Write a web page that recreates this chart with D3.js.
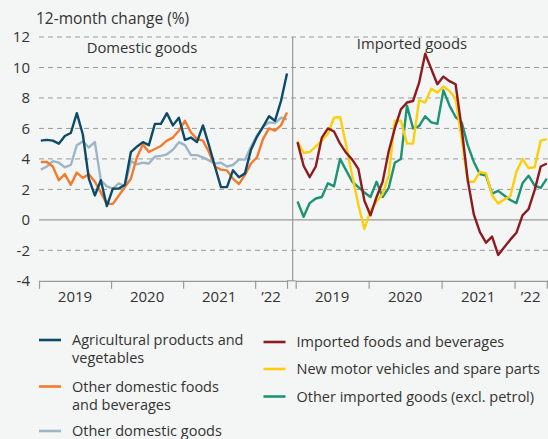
<!DOCTYPE html>
<html>
<head>
<meta charset="utf-8">
<script src="https://cdn.jsdelivr.net/npm/d3@7"></script>
<style>
  body { margin: 0; background: #f4f6f5; }
  svg { display: block; font-family: 'Open Sans', sans-serif; }
  .grid line { stroke: #9a9a9a; stroke-dasharray: 5,4; }
  .line { fill: none; stroke-width: 2.4; stroke-linejoin: round; }
  text { fill: #333; }
</style>
</head>
<body>
<svg id="chart"></svg>
<script>
// months Jan 2019 .. Jun 2022 (index 0..41)
const yearLabels = ['2019', '2020', '2021', '\u201922'];
const yTicks = [-4, -2, 0, 2, 4, 6, 8, 10, 12];

// Domestic goods
const agricultural = [5.2, 5.25, 5.2, 5.0, 5.5, 5.7, 7.0, 5.6, 2.7, 1.6, 2.6, 0.9, 2.05, 2.05, 2.3, 4.45, 4.8, 5.1, 4.9, 6.3, 6.3, 7.0, 6.2, 6.7, 5.25, 5.4, 5.1, 6.2, 4.9, 3.5, 2.15, 2.15, 3.25, 2.8, 3.05, 4.6, 5.45, 6.1, 6.8, 6.5, 7.8, 9.6];
const otherDomFoods = [3.8, 3.8, 3.5, 2.6, 3.0, 2.3, 3.1, 2.75, 3.0, 2.5, 1.8, 1.05, 1.05, 1.6, 2.15, 2.7, 4.1, 4.95, 4.45, 4.65, 4.85, 5.2, 5.4, 5.85, 6.5, 5.75, 5.3, 5.2, 4.45, 3.5, 3.3, 3.25, 2.7, 2.35, 2.95, 3.7, 4.1, 5.3, 6.0, 5.85, 6.2, 7.05];
const otherDomGoods = [3.3, 3.5, 3.85, 3.75, 3.45, 3.6, 4.9, 5.15, 4.75, 5.1, 2.6, 2.2, 2.05, 2.4, 2.2, 3.85, 3.65, 3.75, 3.7, 4.15, 4.2, 4.3, 4.6, 5.1, 4.9, 4.25, 4.25, 4.1, 3.9, 3.7, 3.75, 3.5, 3.6, 3.95, 3.95, 4.8, 5.55, 6.1, 6.4, 6.35, 6.7, 6.6];

// Imported goods
const importedFoods = [5.1, 3.55, 2.8, 3.5, 5.4, 6.0, 5.8, 5.0, 4.4, 3.95, 3.35, 1.25, 0.3, 1.5, 2.5, 4.5, 6.0, 7.25, 7.7, 7.8, 9.0, 10.9, 9.9, 8.9, 9.4, 9.1, 8.9, 6.0, 2.6, 0.35, -0.8, -1.5, -1.1, -2.3, -1.8, -1.3, -0.85, 0.3, 0.7, 1.95, 3.5, 3.7];
const motorVehicles = [5.15, 4.4, 4.45, 4.8, 5.2, 5.65, 6.7, 6.75, 4.9, 2.9, 1.0, -0.6, 0.6, 1.2, 1.7, 2.9, 6.5, 6.5, 5.0, 5.0, 7.85, 7.7, 8.6, 8.35, 8.75, 8.45, 7.95, 5.3, 2.5, 2.5, 3.15, 3.05, 1.6, 1.07, 1.33, 1.55, 3.15, 4.0, 3.4, 3.45, 5.2, 5.3];
const otherImported = [1.2, 0.2, 1.1, 1.4, 1.5, 2.4, 2.2, 4.0, 3.25, 2.5, 2.15, 1.8, 1.5, 2.5, 1.5, 2.1, 3.75, 4.0, 7.5, 6.0, 6.15, 6.8, 6.4, 6.3, 8.5, 7.5, 6.75, 6.4, 4.9, 3.8, 3.0, 2.9, 1.72, 1.9, 1.6, 1.3, 1.1, 2.4, 2.9, 2.25, 2.1, 2.7];

const width = 548;
const height = 439;

const svg = d3.select('#chart')
  .attr('width', width)
  .attr('height', height);

svg.append('rect')
  .attr('width', width)
  .attr('height', height)
  .attr('fill', '#f4f6f5');

const yScale = d3.scaleLinear()
  .domain([-4, 12])
  .range([280.8, 37]);

// month index scales, one per panel
const xLeft = d3.scaleLinear().domain([-0.3, 41]).range([39, 287]);
const xRight = d3.scaleLinear().domain([-0.3, 41]).range([295.7, 546.8]);
const boundaries = [-0.3, 11.7, 23.7, 35.7, 41];

// grid
svg.append('g')
  .attr('class', 'grid')
  .selectAll('line')
  .data(yTicks.filter(d => d !== 0 && d !== -4))
  .join('line')
  .attr('x1', 39)
  .attr('x2', width)
  .attr('y1', d => yScale(d))
  .attr('y2', d => yScale(d));

svg.append('line')
  .attr('x1', 39).attr('x2', width)
  .attr('y1', yScale(0)).attr('y2', yScale(0))
  .attr('stroke', '#999')
  .attr('stroke-width', 1.2);

// panel divider
svg.append('line')
  .attr('x1', 292.7).attr('x2', 292.7)
  .attr('y1', yScale(12)).attr('y2', yScale(-4))
  .attr('stroke', '#999')
  .attr('stroke-width', 1.2);

// y axis labels
const yAxis = d3.axisLeft(yScale)
  .tickValues(yTicks)
  .tickSize(0)
  .tickPadding(0)
  .tickFormat(d => String(d));

svg.append('g')
  .attr('transform', 'translate(30,0)')
  .call(yAxis)
  .call(g => g.select('.domain').remove())
  .call(g => g.selectAll('text')
    .attr('font-size', 15)
    .attr('font-family', "'Open Sans', sans-serif")
    .attr('fill', '#333'));

// x axes
[xLeft, xRight].forEach(x => {
  const axis = d3.axisBottom(x)
    .tickValues(boundaries)
    .tickSize(8)
    .tickSizeOuter(0)
    .tickFormat('');

  const g = svg.append('g')
    .attr('transform', `translate(0,${yScale(-4)})`)
    .call(axis);
  g.select('.domain').attr('stroke', '#999').attr('stroke-width', 1.2);
  g.selectAll('.tick line').attr('stroke', '#999').attr('stroke-width', 1.2);

  svg.append('g')
    .selectAll('text')
    .data(yearLabels)
    .join('text')
    .attr('x', (d, i) => (x(boundaries[i]) + x(boundaries[i + 1])) / 2)
    .attr('y', 302)
    .attr('text-anchor', 'middle')
    .attr('font-size', 15)
    .text(d => d);
});

// axis line bridging the panels
svg.append('line')
  .attr('x1', 287).attr('x2', 295.7)
  .attr('y1', yScale(-4)).attr('y2', yScale(-4))
  .attr('stroke', '#999')
  .attr('stroke-width', 1.2);

// lines
const lineLeft = d3.line()
  .x((d, i) => xLeft(i))
  .y(d => yScale(d));

const lineRight = d3.line()
  .x((d, i) => xRight(i))
  .y(d => yScale(d));

const series = [
  { data: otherDomGoods, color: '#9db6c5', gen: lineLeft },
  { data: otherDomFoods, color: '#f47a2e', gen: lineLeft },
  { data: agricultural, color: '#0d4a69', gen: lineLeft },
  { data: otherImported, color: '#1c9374', gen: lineRight },
  { data: motorVehicles, color: '#fdcf0b', gen: lineRight },
  { data: importedFoods, color: '#8c1c20', gen: lineRight },
];

series.forEach(s => {
  svg.append('path')
    .datum(s.data)
    .attr('class', 'line')
    .attr('stroke', s.color)
    .attr('d', s.gen);
});

// titles
svg.append('text')
  .attr('x', 36)
  .attr('y', 24)
  .attr('font-size', 15.5)
  .text('12-month change (%)');

svg.append('text')
  .attr('x', 142)
  .attr('y', 53)
  .attr('text-anchor', 'middle')
  .attr('font-size', 14.8)
  .text('Domestic goods');

svg.append('text')
  .attr('x', 412)
  .attr('y', 49)
  .attr('text-anchor', 'middle')
  .attr('font-size', 14.8)
  .text('Imported goods');

// legend
const legendItems = [
  { lines: ['Agricultural products and', 'vegetables'], color: '#0d4a69', x: 39, y: 340 },
  { lines: ['Other domestic foods', 'and beverages'], color: '#f47a2e', x: 39, y: 386.5 },
  { lines: ['Other domestic goods'], color: '#9db6c5', x: 39, y: 431 },
  { lines: ['Imported foods and beverages'], color: '#8c1c20', x: 263.5, y: 342 },
  { lines: ['New motor vehicles and spare parts'], color: '#fdcf0b', x: 263.5, y: 369 },
  { lines: ['Other imported goods (excl. petrol)'], color: '#1c9374', x: 263.5, y: 396.5 },
];

const legend = svg.append('g');

legendItems.forEach(item => {
  legend.append('line')
    .attr('x1', item.x)
    .attr('x2', item.x + 22)
    .attr('y1', item.y)
    .attr('y2', item.y)
    .attr('stroke', item.color)
    .attr('stroke-width', 2.6);

  legend.append('text')
    .attr('x', item.x + 33)
    .attr('y', item.y + 5)
    .attr('font-size', 14.5)
    .selectAll('tspan')
    .data(item.lines)
    .join('tspan')
    .attr('x', item.x + 33)
    .attr('dy', (d, i) => (i === 0 ? 0 : 18))
    .text(d => d);
});
</script>
</body>
</html>
